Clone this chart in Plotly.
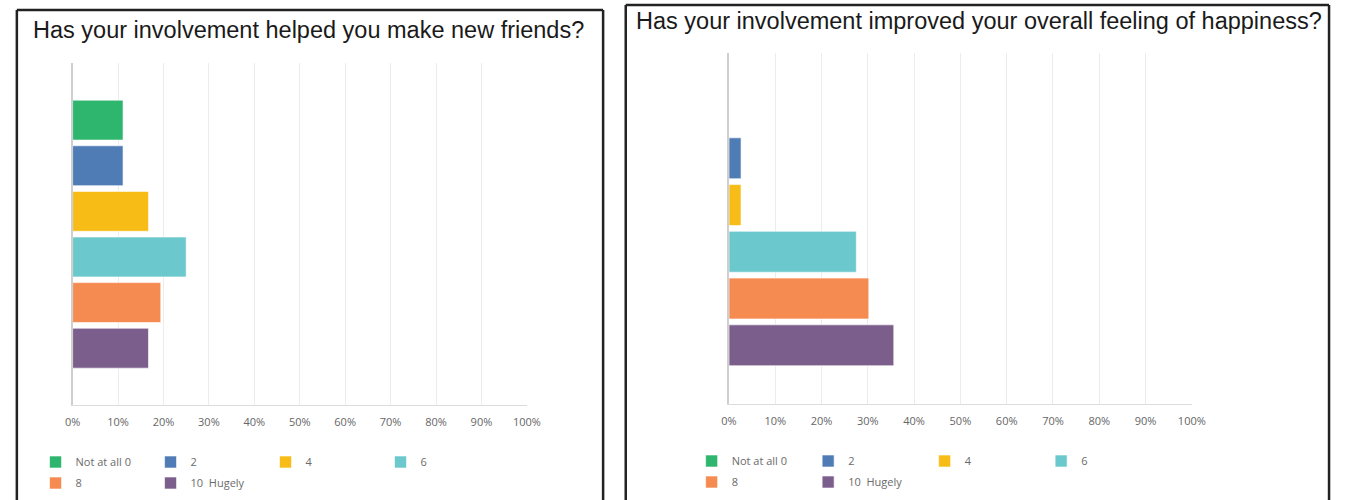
import plotly.graph_objects as go

W, H = 1346, 500

# ---- data ----
answers = ["Not at all 0", "2", "4", "6", "8", "10  Hugely"]
colors = ["#2EB56E", "#507CB6", "#F7BD16", "#6BC8CC", "#F68B52", "#7C5E8D"]
friends_pct = [11.1, 11.1, 16.7, 25.0, 19.4, 16.7]
happiness_pct = [0.0, 2.6, 2.6, 27.5, 30.2, 35.6]
tick_vals = [0, 10, 20, 30, 40, 50, 60, 70, 80, 90, 100]
tick_text = ["0%", "10%", "20%", "30%", "40%", "50%", "60%", "70%", "80%", "90%", "100%"]
title_left = "Has your involvement helped you make new friends?"
title_right = "Has your involvement improved your overall feeling of happiness?"


def px(x):
    return x / W


def py(y):
    return 1 - y / H


fig = go.Figure()

for i, (name, col) in enumerate(zip(answers, colors)):
    fig.add_trace(go.Bar(
        x=[friends_pct[i]], y=["q"], orientation="h", name=name,
        marker=dict(color=col, line=dict(color="rgba(255,255,255,0.6)", width=1)),
        xaxis="x", yaxis="y",
        legend="legend" if i < 4 else "legend2",
        hoverinfo="x+name",
    ))
for i, (name, col) in enumerate(zip(answers, colors)):
    fig.add_trace(go.Bar(
        x=[happiness_pct[i]], y=["q"], orientation="h", name=name,
        marker=dict(color=col, line=dict(color="rgba(255,255,255,0.6)", width=1)),
        xaxis="x2", yaxis="y2",
        legend="legend3" if i < 4 else "legend4",
        hoverinfo="x+name",
    ))

tick_font = dict(family="Open Sans, sans-serif", size=11, color="#666666")
xcommon = dict(
    range=[0, 100], tickvals=tick_vals, ticktext=tick_text,
    showgrid=True, gridcolor="#ececec", gridwidth=1, zeroline=False,
    showline=True, linecolor="#dcdcdc", linewidth=1,
    ticks="outside", ticklen=7, tickcolor="rgba(0,0,0,0)",
    tickfont=tick_font, fixedrange=True,
)
ycommon = dict(
    range=[0.5, -0.5], showticklabels=False, showgrid=False, zeroline=False,
    showline=True, linecolor="#cfcfcf", linewidth=2, ticks="", fixedrange=True,
)

legend_common = dict(
    orientation="h", xanchor="left", yanchor="middle",
    bgcolor="rgba(0,0,0,0)", borderwidth=0,
    font=dict(family="Open Sans, sans-serif", size=11, color="#6b6b6b"),
    traceorder="normal", itemclick=False, itemdoubleclick=False,
)

title_font = dict(family="Liberation Sans, Arial, sans-serif", size=23.5, color="#1a1a1a")
frame = dict(color="#222222", width=2.5)

fig.update_layout(
    width=W, height=H,
    margin=dict(l=0, r=0, t=0, b=0),
    paper_bgcolor="white", plot_bgcolor="white",
    barmode="group", bargap=0.199, bargroupgap=0.125,
    xaxis=dict(domain=[px(65.7), px(527.5)], anchor="y", **xcommon),
    yaxis=dict(domain=[py(405), py(63.3)], anchor="x", **ycommon),
    xaxis2=dict(domain=[px(733), px(1203.5)], anchor="y2", **xcommon),
    yaxis2=dict(domain=[py(403.5), py(53.3)], anchor="x2", **ycommon),
    legend=dict(x=px(28), y=py(462), entrywidth=70, **legend_common),
    legend2=dict(x=px(28), y=py(483), entrywidth=70, **legend_common),
    legend3=dict(x=px(695), y=py(461), entrywidth=71.5, **legend_common),
    legend4=dict(x=px(695), y=py(482), entrywidth=71.5, **legend_common),
    showlegend=True,
    annotations=[
        dict(text=title_left, xref="paper", yref="paper", x=px(305), y=py(30),
             xanchor="center", yanchor="middle", showarrow=False, font=title_font),
        dict(text=title_right, xref="paper", yref="paper", x=px(987), y=py(21),
             xanchor="center", yanchor="middle", showarrow=False, font=title_font),
    ],
    shapes=[
        # left panel frame
        dict(type="line", xref="paper", yref="paper", x0=px(9), x1=px(9), y0=py(10), y1=0, line=frame),
        dict(type="line", xref="paper", yref="paper", x0=px(9), x1=px(605), y0=py(10), y1=py(10), line=frame),
        dict(type="line", xref="paper", yref="paper", x0=px(605), x1=px(605), y0=py(10), y1=0, line=frame),
        # right panel frame
        dict(type="line", xref="paper", yref="paper", x0=px(628), x1=px(628), y0=py(5), y1=0, line=frame),
        dict(type="line", xref="paper", yref="paper", x0=px(628), x1=px(1343), y0=py(5), y1=py(5), line=frame),
        dict(type="line", xref="paper", yref="paper", x0=px(1343), x1=px(1343), y0=py(5), y1=0, line=frame),
    ],
)

fig.write_html(
    "out.html",
    config={"displayModeBar": False},
    post_script="document.body.style.margin='0';document.body.style.overflow='hidden';",
)
